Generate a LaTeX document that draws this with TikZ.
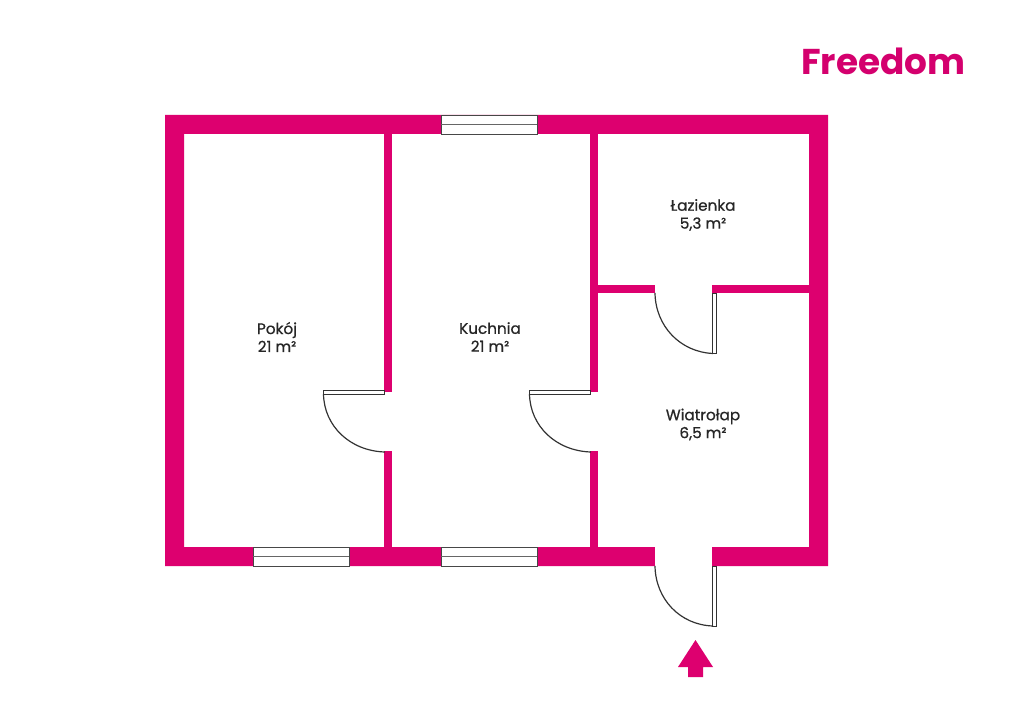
\documentclass[tikz,border=0pt]{standalone}
\usepackage{fontspec}
\setmainfont{Poppins}
\newfontfamily\roomfont[FakeBold=0.6]{Poppins}
\definecolor{wallc}{HTML}{DD006F}
\definecolor{linec}{HTML}{333333}
\definecolor{logoc}{HTML}{D4006E}
\tikzset{
  wall/.style={fill=wallc,draw=none},
  leaf/.style={draw=linec,fill=white,line width=1pt},
  swing/.style={draw=linec,line width=1.2pt},
  paneedge/.style={draw=linec!90,line width=0.9pt},
  panemid/.style={draw=linec!75,line width=1.3pt},
  room/.style={align=center,font=\roomfont\fontsize{15.3}{18}\selectfont,text=black!85,inner sep=0pt},
}
\newcommand{\windowat}[2]{%
  \fill[white] (#1,#2) rectangle ++(96,19);
  \draw[paneedge] (#1,#2) rectangle ++(96,19);
  \draw[panemid] (#1,#2+9.5) -- ++(96,0);
}
\begin{document}
\begin{tikzpicture}[x=1bp,y=-1bp]
\useasboundingbox (0,0) rectangle (1024,725);
\fill[white] (0,0) rectangle (1024,725);
% outer walls
\fill[wall,even odd rule] (165,115) rectangle (828,566) (184,134) rectangle (809,547);
% inner walls
\fill[wall] (384,134) rectangle (392,392);
\fill[wall] (384,451) rectangle (392,547);
\fill[wall] (590,134) rectangle (598,392);
\fill[wall] (590,451) rectangle (598,547);
\fill[wall] (598,285) rectangle (655,293);
\fill[wall] (712,285) rectangle (809,293);
% entrance gap
\fill[white] (655,546) rectangle (712,567);
% windows
\windowat{441}{115}
\windowat{253}{547}
\windowat{441}{547}
% door Pokoj
\draw[leaf] (323.5,390) rectangle (384,394);
\draw[swing] (323.5,394) .. controls (324,426) and (350,451) .. (385,452);
% door Kuchnia
\draw[leaf] (529.5,390) rectangle (590,394);
\draw[swing] (529.5,394) .. controls (530,426) and (556,451) .. (591,452);
% door Lazienka
\draw[leaf] (712.5,293) rectangle (716,353.5);
\draw[swing] (655,293) .. controls (655.5,326) and (680,352) .. (713,353.5);
% entrance door
\draw[leaf] (712.5,566) rectangle (716,626);
\draw[swing] (655,566) .. controls (655.5,599) and (680,625) .. (713,626);
% entry arrow
\fill[wall] (695.5,640) -- (713,667) -- (703,667) -- (703,677) -- (688,677) -- (688,667) -- (678,667) -- cycle;
% labels
\node[room] (pokoj) at (277,337) {Pokój\\21 m²};
\node[room] (kuchnia) at (490,337) {Kuchnia\\21 m²};
\node[room] (lazienka) at (703,215) {Łazienka\\5,3 m²};
\node[room] (wiatrolap) at (703,424.5) {Wiatrołap\\6,5 m²};
% logo
\node[font=\fontsize{36}{40}\selectfont\bfseries,text=logoc,inner sep=0pt,anchor=base west] (logo) at (801,74.5) {Freedom};
\end{tikzpicture}
\end{document}
